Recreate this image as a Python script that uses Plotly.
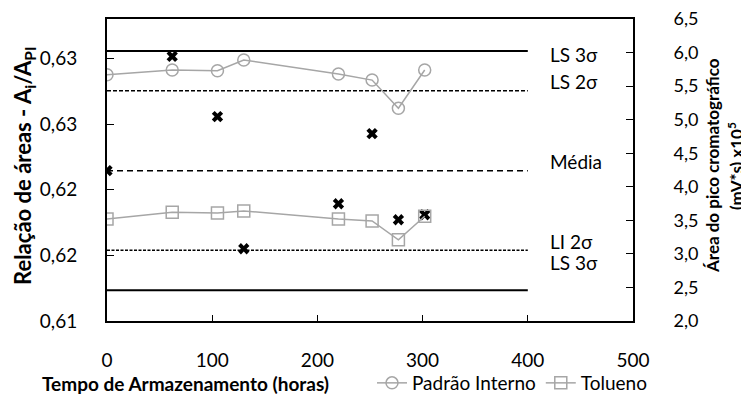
import plotly.graph_objects as go

# ---- data ----
tempo = [0, 62, 105, 130, 220, 252, 277, 302]
padrao_interno = [5.67, 5.74, 5.73, 5.89, 5.68, 5.59, 5.17, 5.74]
tolueno = [3.52, 3.62, 3.61, 3.64, 3.52, 3.49, 3.21, 3.56]
relacao = [0.62145, 0.63015, 0.62557, 0.61550, 0.61893, 0.62427, 0.61771, 0.61809]

limite_x = [0, 400]
limite_nomes = ["LS 3σ", "LS 2σ", "Média", "LI 2σ", "LS 3σ"]
limite_valores = [0.63056, 0.62753, 0.62145, 0.61538, 0.61234]

x_ticks = [0, 100, 200, 300, 400, 500]
y1_ticks = [0.610, 0.615, 0.620, 0.625, 0.630]
y1_ticktext = ["0,61", "0,62", "0,62", "0,63", "0,63"]
y2_ticks = [2.0, 2.5, 3.0, 3.5, 4.0, 4.5, 5.0, 5.5, 6.0, 6.5]
y2_ticktext = ["2,0", "2,5", "3,0", "3,5", "4,0", "4,5", "5,0", "5,5", "6,0", "6,5"]

FONT = "Lato, 'Open Sans', sans-serif"
GRAY = "#a6a6a6"

line_styles = [
    dict(color="black", width=2, dash="solid"),
    dict(color="black", width=1.5, dash="4px,2px"),
    dict(color="black", width=1.5, dash="6px,4px"),
    dict(color="black", width=1.5, dash="3px,1.5px"),
    dict(color="black", width=2, dash="solid"),
]
label_shift = [-3, 9, 9, 9, 28]

# page body has an 8px margin: size figure so it fits the 749x396 window
OFF = 8
W, H = 749 - OFF, 396 - OFF
# plot area in window pixels: x 107..633, y 19..321
L, R = 107 - OFF, 749 - 633
T, B = 19 - OFF, 396 - 321
pw, ph = W - L - R, H - T - B


def px(xw):
    return (xw - OFF - L) / pw


def py(yw):
    return (H - B - (yw - OFF)) / ph


fig = go.Figure()

for nome, val, ls in zip(limite_nomes, limite_valores, line_styles):
    fig.add_trace(go.Scatter(x=limite_x, y=[val, val], mode="lines", line=ls,
                             showlegend=False, hoverinfo="skip", yaxis="y"))

fig.add_trace(go.Scatter(x=tempo, y=relacao, mode="markers", yaxis="y",
                         marker=dict(symbol="x", size=10, color="black",
                                     line=dict(width=0)),
                         showlegend=False))

fig.add_trace(go.Scatter(x=tempo, y=padrao_interno, mode="lines+markers", yaxis="y2",
                         name="Padrão Interno",
                         line=dict(color=GRAY, width=1.5),
                         marker=dict(symbol="circle-open", size=12, color=GRAY,
                                     line=dict(width=1.5, color=GRAY))))
fig.add_trace(go.Scatter(x=tempo, y=tolueno, mode="lines+markers", yaxis="y2",
                         name="Tolueno",
                         line=dict(color=GRAY, width=1.5),
                         marker=dict(symbol="square-open", size=12, color=GRAY,
                                     line=dict(width=1.5, color=GRAY))))

annotations = []
for nome, val, sh in zip(limite_nomes, limite_valores, label_shift):
    annotations.append(dict(x=419, y=val, xref="x", yref="y", text=nome,
                            showarrow=False, xanchor="left", yanchor="middle",
                            yshift=sh, font=dict(family=FONT, size=19, color="black")))

titles = [
    (24, 166, "<b>Relação de áreas - A<sub>i</sub>/A<sub>PI</sub></b>", -90, 22, "center"),
    (712, 166, "<b>Área do pico cromatográfico</b>", -90, 17, "center"),
    (735, 166, "<b>(mV*s) x10<sup>5</sup></b>", -90, 17, "center"),
    (40, 383, "<b>Tempo de Armazenamento (horas)</b>", 0, 19, "left"),
]
for xw, yw, txt, ang, fs, xa in titles:
    annotations.append(dict(x=px(xw), y=py(yw), xref="paper", yref="paper",
                            text=txt, textangle=ang, showarrow=False,
                            xanchor=xa, yanchor="middle",
                            font=dict(family=FONT, size=fs, color="black")))

fig.update_layout(
    width=W, height=H,
    margin=dict(l=L, r=R, t=T, b=B, autoexpand=False),
    paper_bgcolor="white", plot_bgcolor="white",
    font=dict(family=FONT, size=19, color="black"),
    xaxis=dict(range=[0, 500], tickvals=x_ticks, ticks="inside", ticklen=6,
               tickwidth=1, tickcolor="black", showline=True, linewidth=2,
               linecolor="black", mirror=True, showgrid=False, zeroline=False,
               ticklabelstandoff=21, tickfont=dict(size=19), automargin=False,
               ticklabeloverflow="allow"),
    yaxis=dict(range=[0.61, 0.633], tickvals=y1_ticks, ticktext=y1_ticktext,
               ticks="inside", ticklen=7, tickcolor="black", showline=True,
               linewidth=2, linecolor="black", showgrid=False, zeroline=False,
               ticklabelstandoff=24, tickfont=dict(size=19), automargin=False,
               ticklabeloverflow="allow"),
    yaxis2=dict(range=[2.0, 6.5], tickvals=y2_ticks, ticktext=y2_ticktext,
                overlaying="y", side="right", ticks="inside", ticklen=7,
                tickcolor="black", showline=True, linewidth=2, linecolor="black",
                showgrid=False, zeroline=False, ticklabelstandoff=35,
                ticklabeloverflow="allow",
                tickfont=dict(size=18), automargin=False),
    legend=dict(orientation="h", x=px(372), y=py(383),
                xanchor="left", yanchor="middle", font=dict(size=19),
                bgcolor="rgba(0,0,0,0)", itemwidth=30, tracegroupgap=0),
    annotations=annotations,
    showlegend=True,
)

fig.write_html("out.html")
